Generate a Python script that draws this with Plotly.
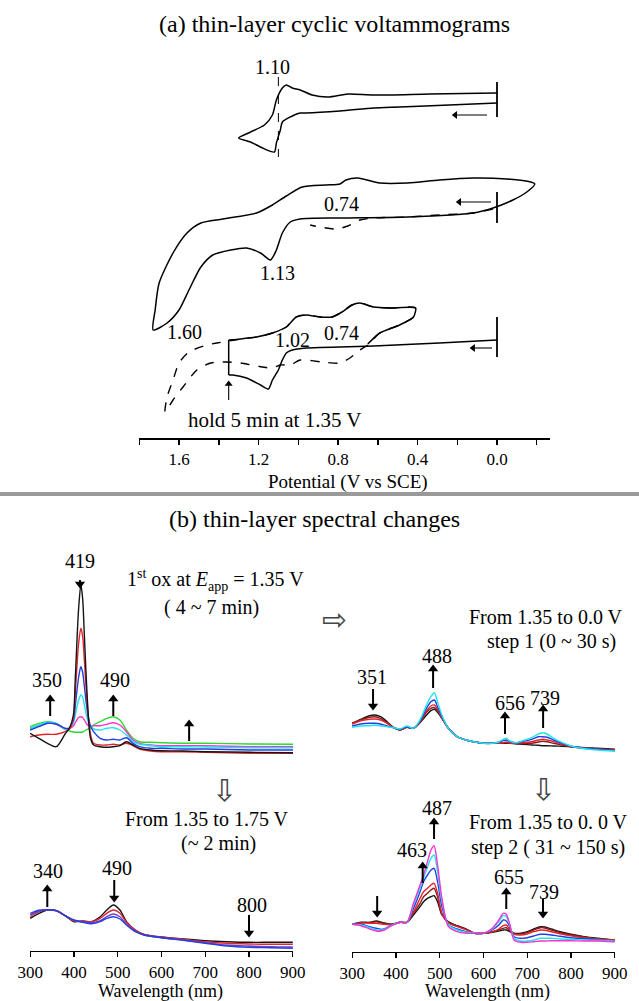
import plotly.graph_objects as go

W, H = 639, 1001
SERIF = "Liberation Serif"

# ---------------- (a) thin-layer cyclic voltammograms ----------------
# potential (V vs SCE) and current (arbitrary units, each scan offset vertically)
cv1_E = [0.00, 0.24, 0.49, 0.62, 0.79, 0.96, 0.99, 1.04, 1.08, 1.09, 1.11, 1.12, 1.18, 1.24, 1.30,
         1.24, 1.17, 1.13, 1.11, 1.08, 1.06, 1.03, 0.99, 0.93, 0.85, 0.75, 0.62, 0.34, 0.00]
cv1_i = [33.5, 33.3, 33.1, 33.0, 32.7, 32.5, 32.5, 32.1, 31.6, 30.8, 29.5, 28.6, 29.0, 29.6, 30.0,
         30.6, 31.3, 32.3, 33.8, 35.0, 35.3, 35.0, 34.8, 34.3, 34.1, 34.4, 34.3, 34.4, 34.5]
cv1_ref_E = [1.10, 1.10]
cv1_ref_i = [36.1, 28.1]
cv1_bar_i = [35.6, 32.1]

cv2_E = [-0.19, -0.17, -0.05, 0.12, 0.29, 0.45, 0.59, 0.70, 0.76, 0.79, 0.86, 0.98, 1.06, 1.13,
         1.21, 1.38, 1.49, 1.56, 1.63, 1.70, 1.72, 1.73,
         1.66, 1.60, 1.55, 1.49, 1.43, 1.34, 1.26, 1.19, 1.14, 1.11, 1.08, 1.04, 0.99, 0.79,
         0.45, 0.12, 0.02, -0.08, -0.15, -0.19]
cv2_i = [25.4, 25.6, 25.9, 26.0, 25.8, 25.5, 25.5, 26.0, 25.8, 25.4, 25.3, 25.1, 24.2, 23.3,
         22.5, 21.9, 21.5, 20.5, 18.5, 15.5, 12.8, 10.8,
         11.5, 12.8, 14.8, 17.1, 18.3, 18.8, 19.0, 18.5, 17.8, 18.8, 20.5, 21.6, 21.9, 22.0,
         22.1, 22.5, 23.0, 23.8, 24.6, 25.4]
cv2_dash_E = [0.02, 0.12, 0.29, 0.45, 0.62, 0.69, 0.75, 0.81, 0.89, 0.94]
cv2_dash_i = [22.9, 22.5, 22.3, 22.1, 22.0, 21.8, 21.2, 20.9, 21.1, 21.3]
cv2_bar_i = [24.6, 21.5]

cv3_E = [0.00, 0.29, 0.62, 0.96, 1.03, 1.06, 1.08, 1.10, 1.13, 1.15, 1.19, 1.26, 1.33, 1.35,
         1.35, 1.29, 1.21, 1.13, 1.06, 1.01, 0.96, 0.89, 0.83, 0.78, 0.73, 0.69, 0.62, 0.54, 0.41,
         0.42, 0.49, 0.59, 0.65]
cv3_i = [9.8, 9.5, 9.2, 9.0, 8.8, 8.5, 7.8, 6.8, 5.8, 4.9, 5.3, 6.0, 6.3, 6.3,
         9.8, 9.9, 10.1, 10.5, 11.1, 12.1, 12.3, 12.1, 12.1, 12.6, 13.3, 13.5, 13.1, 13.0, 13.0,
         12.1, 11.3, 10.5, 9.4]
cv3_dash_E = [0.41, 0.54, 0.62, 0.69, 0.73, 0.78, 0.83, 0.89, 0.96, 1.01, 1.06, 1.13, 1.21, 1.29,
              1.35, 1.41, 1.46, 1.55, 1.60, 1.63, 1.66, 1.67, 1.63, 1.58, 1.51, 1.44, 1.36, 1.29,
              1.18, 1.13, 1.09, 1.04, 0.99, 0.88, 0.79, 0.74, 0.69, 0.65, 0.59, 0.49, 0.42, 0.41]
cv3_dash_i = [13.0, 13.0, 13.1, 13.5, 13.3, 12.6, 12.1, 12.1, 12.3, 12.1, 11.1, 10.5, 10.1, 9.9,
              9.7, 9.5, 9.3, 8.6, 7.5, 5.8, 4.1, 2.6, 3.8, 5.1, 6.8, 7.5, 7.6, 7.5,
              7.1, 7.0, 7.3, 7.3, 7.8, 7.6, 7.5, 8.0, 8.8, 9.3, 10.5, 11.3, 12.1, 13.0]
cv3_bar_i = [12.1, 8.1]

cv_major_ticks = [1.6, 1.2, 0.8, 0.4, 0.0]
cv_minor_ticks = [1.8, 1.4, 1.0, 0.6, 0.2, -0.2]

# ---------------- (b) thin-layer spectral changes ----------------
# 1st oxidation at Eapp = 1.35 V (4 ~ 7 min)
wl_ox1 = [300, 320, 340, 360, 380, 390, 399, 403, 407, 411, 416, 420, 424, 428, 433, 438, 445,
          460, 475, 490, 505, 520, 535, 550, 575, 600, 650, 700, 800, 900]
ox1_black = [.267, .217, .167, .133, .26, .32, .45, .78, 1.18, 1.52, 1.75, 1.62, 1.25, .85, .45, .22, .15,
             .133, .127, .133, .143, .183, .15, .117, .10, .093, .09, .083, .077, .073]
ox1_red = [.233, .25, .257, .257, .283, .31, .42, .65, .93, 1.17, 1.317, 1.24, 1.0, .72, .43, .26, .167,
           .15, .15, .157, .15, .167, .143, .11, .09, .083, .083, .077, .067, .067]
ox1_blue = [.30, .333, .367, .36, .317, .32, .40, .53, .69, .83, .933, .88, .74, .58, .43, .34, .283,
            .217, .20, .207, .20, .223, .167, .133, .117, .117, .11, .11, .10, .10]
ox1_cyan = [.317, .35, .377, .367, .31, .32, .37, .44, .53, .60, .65, .63, .55, .46, .38, .34, .31,
            .30, .317, .323, .30, .25, .183, .157, .143, .133, .133, .13, .123, .123]
ox1_magenta = [.317, .343, .367, .357, .31, .315, .34, .37, .40, .425, .433, .425, .40, .37, .345, .335, .343,
               .343, .357, .373, .35, .283, .20, .167, .15, .143, .143, .143, .133, .133]
ox1_green = [.333, .367, .383, .367, .307, .29, .28, .277, .277, .277, .277, .28, .29, .30, .31, .32, .35,
             .383, .417, .433, .40, .30, .217, .183, .177, .173, .167, .167, .16, .157]

# From 1.35 to 0.0 V, step 1 (0 ~ 30 s)
wl_red1 = [300, 320, 340, 351, 365, 380, 395, 410, 425, 440, 455, 470, 480, 488, 495, 505, 520, 540,
           560, 580, 600, 620, 635, 645, 652, 660, 675, 690, 710, 725, 735, 745, 760, 780, 800, 830, 860, 900]
red1_black = [.367, .407, .443, .45, .433, .383, .323, .30, .327, .317, .373, .45, .493, .507, .477, .417, .317, .233,
              .20, .18, .167, .167, .167, .167, .167, .167, .16, .157, .15, .147, .143, .143, .14, .137, .133, .123, .117, .107]
red1_darkred = [.363, .40, .427, .433, .417, .373, .323, .30, .327, .317, .377, .477, .517, .523, .493, .42, .317, .233,
                .20, .18, .167, .167, .168, .17, .173, .17, .167, .165, .167, .18, .187, .183, .167, .15, .133, .12, .11, .10]
red1_red = [.36, .393, .407, .41, .40, .367, .323, .303, .33, .317, .38, .49, .54, .55, .507, .423, .317, .233,
            .20, .18, .167, .167, .17, .173, .18, .17, .167, .173, .183, .20, .207, .20, .183, .157, .133, .12, .11, .10]
red1_blue = [.34, .36, .367, .367, .36, .34, .323, .307, .333, .317, .387, .517, .583, .60, .533, .433, .317, .233,
             .20, .18, .167, .167, .177, .193, .20, .183, .173, .187, .207, .233, .233, .227, .20, .167, .137, .117, .107, .093]
red1_cyan = [.327, .34, .343, .347, .343, .333, .323, .31, .34, .317, .40, .55, .633, .673, .583, .45, .317, .233,
             .20, .18, .167, .167, .18, .207, .217, .19, .173, .193, .223, .26, .273, .26, .217, .173, .14, .113, .10, .09]

# From 1.35 to 1.75 V (~ 2 min)
wl_ox2 = [300, 320, 340, 360, 380, 400, 420, 440, 460, 475, 490, 505, 520, 540, 560, 600, 650, 700,
          750, 800, 850, 900]
ox2_black = [.327, .377, .41, .403, .353, .293, .30, .293, .343, .41, .46, .41, .293, .21, .167, .14, .12, .103,
             .093, .087, .087, .087]
ox2_red = [.343, .393, .41, .40, .35, .30, .30, .293, .327, .377, .41, .377, .287, .21, .167, .137, .117, .093,
           .077, .07, .067, .067]
ox2_purple = [.36, .40, .413, .403, .353, .307, .293, .283, .303, .343, .37, .343, .267, .20, .16, .133, .11, .083,
              .06, .05, .043, .04]
ox2_blue = [.377, .407, .413, .403, .353, .31, .287, .273, .293, .327, .343, .32, .26, .193, .16, .133, .107, .077,
            .05, .037, .033, .027]

# From 1.35 to 0.0 V, step 2 (31 ~ 150 s)
wl_red2 = [300, 320, 340, 355, 370, 390, 410, 425, 440, 455, 463, 472, 480, 487, 495, 505, 520, 540,
           560, 580, 600, 620, 635, 645, 652, 660, 670, 685, 700, 715, 730, 740, 755, 775, 800, 830, 860, 900]
red2_black = [.277, .297, .297, .31, .293, .277, .297, .297, .37, .453, .503, .537, .553, .563, .503, .37, .303, .263,
              .23, .187, .187, .197, .21, .22, .22, .203, .187, .187, .203, .23, .253, .25, .23, .203, .177, .153, .137, .12]
red2_darkred = [.277, .293, .293, .303, .287, .277, .297, .297, .387, .487, .553, .587, .62, .637, .553, .377, .297, .26,
                .227, .187, .187, .20, .22, .237, .243, .217, .183, .18, .193, .22, .243, .24, .22, .193, .17, .15, .133, .12]
red2_red = [.277, .29, .287, .287, .277, .273, .297, .297, .403, .537, .603, .637, .67, .687, .587, .387, .287, .253,
            .223, .187, .187, .203, .23, .263, .27, .23, .177, .17, .18, .203, .22, .217, .203, .183, .163, .143, .13, .117]
red2_blue = [.277, .277, .253, .237, .227, .27, .297, .297, .437, .603, .703, .77, .82, .837, .703, .453, .27, .23,
             .203, .187, .187, .22, .27, .32, .31, .253, .153, .137, .143, .16, .177, .177, .17, .157, .143, .133, .123, .113]
red2_cyan = [.277, .27, .243, .22, .22, .267, .297, .297, .47, .637, .737, .853, .937, .97, .803, .503, .27, .22,
             .197, .187, .187, .23, .303, .363, .353, .27, .137, .11, .11, .12, .137, .137, .137, .13, .127, .12, .117, .11]
red2_magenta = [.277, .263, .23, .21, .213, .263, .297, .297, .487, .67, .77, .903, 1.02, 1.063, .87, .537, .253, .203,
                .187, .187, .187, .237, .32, .387, .377, .277, .12, .097, .097, .103, .11, .11, .113, .113, .113, .11, .11, .103]

wl_ticks = [300, 400, 500, 600, 700, 800, 900]

C_BLACK, C_DRED, C_RED = "#151515", "#8a1c1c", "#e3242b"
C_BLUE, C_CYAN, C_MAG = "#2040e0", "#1ee3f0", "#ff30d0"
C_GREEN, C_PURPLE = "#30d830", "#7040c8"


def fx(px):
    return px / W


def fy(py):
    return 1 - py / H


fig = go.Figure()


def line(x, y, xa, ya, color="black", width=1.5, dash="solid", shape="spline", smooth=0.8):
    ln = dict(color=color, width=width, dash=dash, shape=shape)
    if shape == "spline":
        ln["smoothing"] = smooth
    fig.add_trace(go.Scatter(x=x, y=y, mode="lines", line=ln, xaxis=xa, yaxis=ya, cliponaxis=False,
                             showlegend=False, hoverinfo="skip"))


def arrow(x_tip, y_tip, xa, ya, head, dx=0.0, dy=0.0, width=2.0, size=9):
    """line from the tail (tip + dx, dy in axis units) to a filled triangular head at the tip"""
    fig.add_trace(go.Scatter(x=[x_tip + dx, x_tip], y=[y_tip + dy, y_tip], mode="lines",
                             line=dict(color="black", width=width), cliponaxis=False,
                             xaxis=xa, yaxis=ya, showlegend=False, hoverinfo="skip"))
    fig.add_trace(go.Scatter(x=[x_tip], y=[y_tip], mode="markers", cliponaxis=False,
                             marker=dict(symbol="triangle-" + head, size=size, color="black",
                                         line=dict(width=0)),
                             xaxis=xa, yaxis=ya, showlegend=False, hoverinfo="skip"))


# CV traces
line(cv1_E, cv1_i, "x", "y", smooth=0.7)
line(cv1_ref_E, cv1_ref_i, "x", "y", width=1, dash="dash", shape="linear")
line([0.0, 0.0], cv1_bar_i, "x", "y", width=1.8, shape="linear")
line(cv2_E, cv2_i, "x", "y", smooth=0.7)
line(cv2_dash_E, cv2_dash_i, "x", "y", width=1.4, dash="dash", smooth=0.7)
line([0.0, 0.0], cv2_bar_i, "x", "y", width=1.8, shape="linear")
line(cv3_dash_E, cv3_dash_i, "x", "y", width=1.4, dash="dash", smooth=0.7)
line(cv3_E[:14], cv3_i[:14], "x", "y", smooth=0.6)
line(cv3_E[13:15], cv3_i[13:15], "x", "y", shape="linear")
line(cv3_E[14:], cv3_i[14:], "x", "y", smooth=0.6)
line([0.0, 0.0], cv3_bar_i, "x", "y", width=1.8, shape="linear")

# scan-direction arrows and "hold" arrow (CV axes: 198.75 px per V, 10 px per current unit)
arrow(0.21, 32.3, "x", "y", "left", dx=-0.16, width=1.1, size=7)
arrow(0.19, 23.6, "x", "y", "left", dx=-0.16, width=1.1, size=7)
arrow(0.12, 9.0, "x", "y", "left", dx=-0.095, width=1.1, size=7)
arrow(1.35, 5.4, "x", "y", "up", dy=-1.6, width=1.1, size=7)

# spectra
for ys, c in [(ox1_green, C_GREEN), (ox1_magenta, C_MAG), (ox1_cyan, C_CYAN), (ox1_blue, C_BLUE),
              (ox1_red, C_RED), (ox1_black, C_BLACK)]:
    line(wl_ox1, ys, "x2", "y2", color=c, width=1.4)
for ys, c in [(red1_black, C_BLACK), (red1_darkred, C_DRED), (red1_red, C_RED), (red1_blue, C_BLUE),
              (red1_cyan, C_CYAN)]:
    line(wl_red1, ys, "x3", "y3", color=c, width=1.4)
for ys, c in [(ox2_black, C_BLACK), (ox2_red, C_RED), (ox2_purple, C_PURPLE), (ox2_blue, C_BLUE)]:
    line(wl_ox2, ys, "x4", "y4", color=c, width=1.4)
for ys, c in [(red2_black, C_BLACK), (red2_darkred, C_DRED), (red2_red, C_RED), (red2_blue, C_BLUE),
              (red2_cyan, C_CYAN), (red2_magenta, C_MAG)]:
    line(wl_red2, ys, "x5", "y5", color=c, width=1.4)

# peak arrows in the spectra (100 px per absorbance unit)
arrow(414, 1.76, "x2", "y2", "down", dy=0.13)
arrow(346, 0.61, "x2", "y2", "up", dy=-0.17)
arrow(490, 0.61, "x2", "y2", "up", dy=-0.17)
arrow(663, 0.36, "x2", "y2", "up", dy=-0.17)
arrow(485, 0.91, "x3", "y3", "up", dy=-0.19)
arrow(348, 0.54, "x3", "y3", "down", dy=0.17)
arrow(649, 0.44, "x3", "y3", "up", dy=-0.18)
arrow(736, 0.51, "x3", "y3", "up", dy=-0.19)
arrow(339, 0.62, "x4", "y4", "up", dy=-0.18)
arrow(492, 0.53, "x4", "y4", "down", dy=0.18)
arrow(800, 0.18, "x4", "y4", "down", dy=0.18)
arrow(487, 1.30, "x5", "y5", "up", dy=-0.17)
arrow(461, 0.86, "x5", "y5", "up", dy=-0.17)
arrow(652, 0.60, "x5", "y5", "up", dy=-0.17)
arrow(736, 0.38, "x5", "y5", "down", dy=0.15)
arrow(357, 0.39, "x5", "y5", "down", dy=0.17)

ann = []


def text(s, px, py, size=20, family=SERIF, color="black"):
    ann.append(dict(text=s, x=fx(px), y=fy(py), xref="paper", yref="paper", showarrow=False,
                    xanchor="center", yanchor="middle", font=dict(family=family, size=size, color=color)))


# (a) labels
text("(a) thin-layer cyclic voltammograms", 334, 24, size=24)
text("1.10", 272, 67)
text("0.74", 342, 204)
text("1.13", 277, 273)
text("1.60", 184, 332)
text("1.02", 292, 340)
text("0.74", 342, 333)
text("hold 5 min at 1.35 V", 274, 420, size=21)
text("Potential (V vs SCE)", 348, 482, size=19)

# (b) labels
text("(b) thin-layer spectral changes", 314, 519, size=24)
text("419", 80, 561)
text("1<sup>st</sup> ox at <i>E</i><sub>app</sub> = 1.35 V", 215, 580)
text("( 4 ~ 7 min)", 211, 607)
text("350", 47, 680)
text("490", 115, 680)
text("\u21e8", 334, 619, size=30, family="DejaVu Sans", color="#444")
text("\u21e9", 224, 790, size=30, family="DejaVu Sans", color="#444")
text("\u21e9", 543, 789, size=30, family="DejaVu Sans", color="#444")
text("From 1.35 to 0.0 V", 546, 617)
text("step 1 (0 ~ 30 s)", 551, 641)
text("488", 437, 656)
text("351", 372, 677)
text("656", 510, 703)
text("739", 545, 698)
text("From 1.35 to 1.75 V", 207, 819)
text("(~ 2 min)", 218, 843)
text("340", 48, 871)
text("490", 117, 868)
text("800", 252, 905)
text("487", 437, 808)
text("463", 412, 850)
text("From 1.35 to 0. 0 V", 548, 822)
text("step 2 ( 31 ~ 150 s)", 548, 847)
text("655", 509, 877)
text("739", 544, 892)
text("Wavelength (nm)", 161, 991, size=18)
text("Wavelength (nm)", 487, 991, size=18)

hidden = dict(visible=False, showgrid=False, zeroline=False, automargin=False)
wl_axis = dict(range=[299.5, 900.5], tickvals=wl_ticks, ticks="outside", ticklen=5, tickwidth=1.3,
               showline=True, linewidth=1.3, linecolor="black", tickcolor="black", showgrid=False,
               zeroline=False, automargin=False, tickfont=dict(family=SERIF, size=17, color="black"))

fig.update_layout(
    width=W, height=H, autosize=False,
    margin=dict(l=0, r=0, t=0, b=0, pad=0, autoexpand=False),
    paper_bgcolor="white", plot_bgcolor="white",
    showlegend=False,
    xaxis=dict(domain=[fx(139), fx(550)], range=[1.8013, -0.2667], anchor="y",
               tickmode="array", tickvals=cv_major_ticks, ticks="outside", ticklen=5, tickwidth=1.5,
               minor=dict(tickmode="array", tickvals=cv_minor_ticks, ticks="outside", ticklen=5,
                          tickwidth=1.5, tickcolor="black", showgrid=False),
               tickformat=".1f", showline=True, linewidth=1.5, linecolor="black", tickcolor="black",
               showgrid=False, zeroline=False, automargin=False,
               tickfont=dict(family=SERIF, size=17, color="black")),
    yaxis=dict(domain=[fy(438), fy(35)], range=[0, 40.3], anchor="x", **hidden),
    xaxis2=dict(domain=[fx(30), fx(293)], range=[300, 900], anchor="y2", **hidden),
    yaxis2=dict(domain=[fy(760), fy(580)], range=[0, 1.8], anchor="x2", **hidden),
    xaxis3=dict(domain=[fx(352), fx(615)], range=[300, 900], anchor="y3", **hidden),
    yaxis3=dict(domain=[fy(760), fy(580)], range=[0, 1.8], anchor="x3", **hidden),
    xaxis4=dict(domain=[fx(30), fx(293)], anchor="y4", **wl_axis),
    yaxis4=dict(domain=[fy(951), fy(851)], range=[0, 1.0], anchor="x4", **hidden),
    xaxis5=dict(domain=[fx(352), fx(615)], anchor="y5", **wl_axis),
    yaxis5=dict(domain=[fy(952), fy(802)], range=[0, 1.5], anchor="x5", **hidden),
    annotations=ann,
    shapes=[dict(type="line", xref="paper", yref="paper", x0=0, x1=1, y0=fy(494), y1=fy(494),
                 line=dict(color="#9a9a9a", width=4))],
)

fig.write_html("out.html", config={"displayModeBar": False, "staticPlot": True},
               post_script="document.body.style.margin='0';document.body.style.padding='0';"
                           "document.documentElement.style.margin='0';")
